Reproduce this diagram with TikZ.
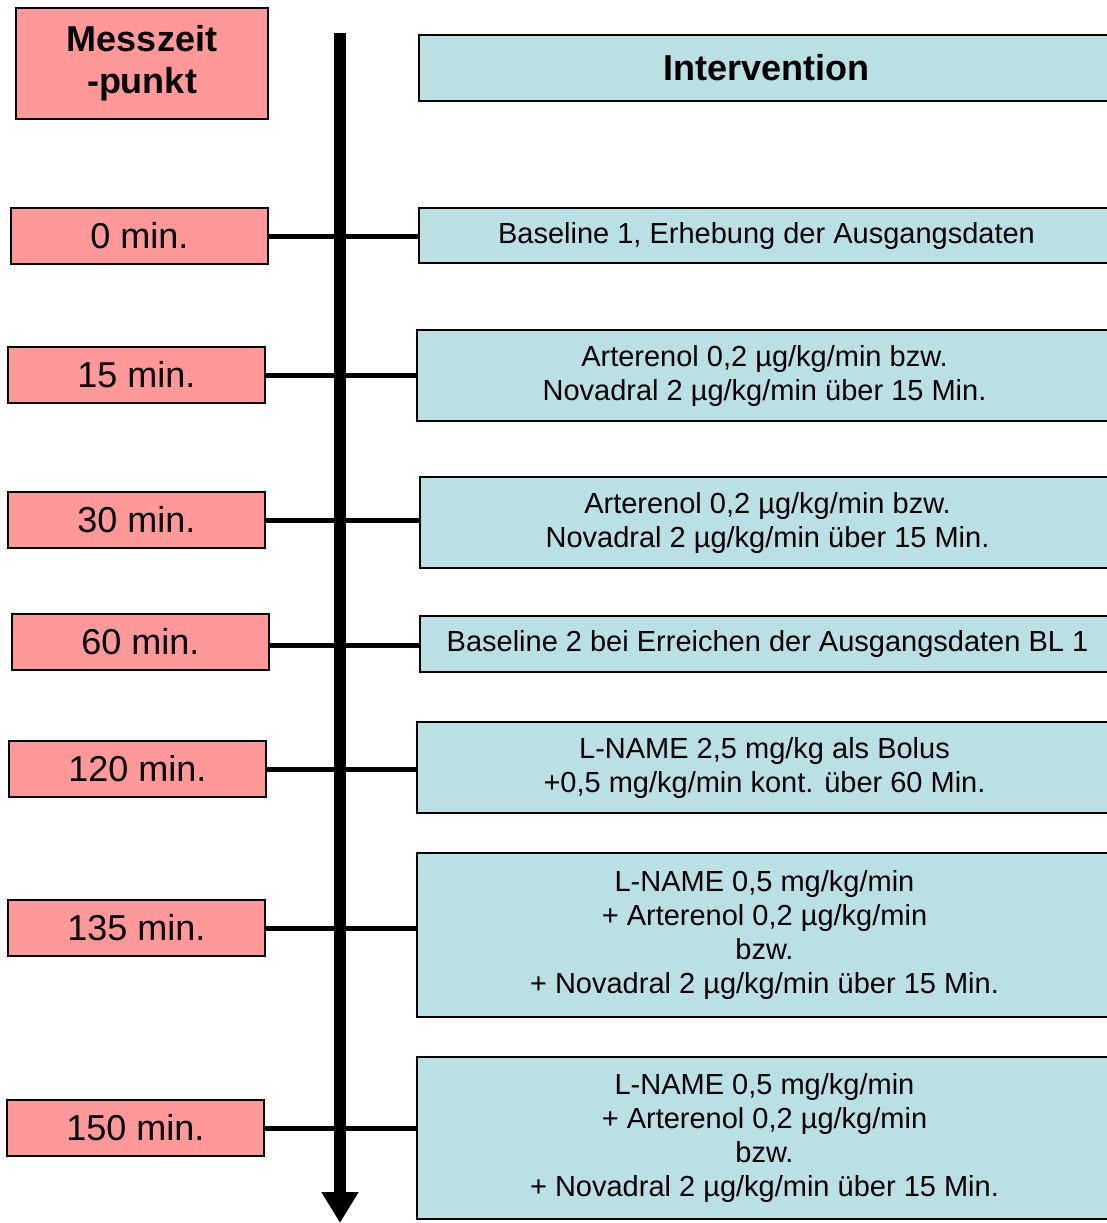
\documentclass[tikz,border=0pt]{standalone}
\usepackage{fontspec}
\setmainfont{Liberation Sans}
\usetikzlibrary{positioning,arrows.meta}
\definecolor{timepink}{HTML}{FF9999}
\definecolor{intcyan}{HTML}{BBE0E3}
\tikzset{
  timebox/.style={draw=black, line width=1pt, fill=timepink, anchor=west,
    minimum width=128.5pt, minimum height=28pt, inner sep=2pt,
    font=\fontsize{18pt}{21pt}\selectfont, align=center},
  intbox/.style={draw=black, line width=1pt, fill=intcyan, anchor=west,
    minimum width=347.5pt, inner sep=2pt,
    font=\fontsize{14.5pt}{17pt}\selectfont, align=center},
  tick/.style={line width=2.5pt, black}
}
\begin{document}
\begin{tikzpicture}[x=0.5pt, y=-0.5pt]
\clip (0,0) rectangle (1107,1223);
\useasboundingbox (0,0) rectangle (1107,1223);
% time axis
\coordinate (axistop) at (340,33);
\coordinate (axisend) at (340,1223);
\draw[line width=6pt, -{Triangle[width=17.5pt, length=15.5pt]}] (axistop) -- (axisend);
% headings
\node[timebox, minimum width=126pt, minimum height=55.5pt, font=\bfseries\fontsize{18pt}{21pt}\selectfont] (thead) at (15,63.5) {Messzeit\\-punkt};
\node[intbox, minimum height=33pt, font=\bfseries\fontsize{18pt}{21pt}\selectfont] (ihead) at (418,68) {Intervention};
% rows
\node[timebox] (t0) at (10,236) {0 min.};
\node[intbox, minimum height=27.5pt] (i0) at (418,235.5) {Baseline 1, Erhebung der Ausgangsdaten};
\node[timebox] (t15) at (7,375) {15 min.};
\node[intbox, minimum height=45.5pt] (i15) at (416,375.5) {Arterenol 0,2 µg/kg/min bzw.\\Novadral 2 µg/kg/min über 15 Min.};
\node[timebox] (t30) at (7,520) {30 min.};
\node[intbox, minimum height=45.5pt] (i30) at (419,522.5) {Arterenol 0,2 µg/kg/min bzw.\\Novadral 2 µg/kg/min über 15 Min.};
\node[timebox] (t60) at (11,642) {60 min.};
\node[intbox, minimum height=28pt] (i60) at (419,644) {Baseline 2 bei Erreichen der Ausgangsdaten BL 1};
\node[timebox] (t120) at (8,769) {120 min.};
\node[intbox, minimum height=45.5pt] (i120) at (416,767.5) {L-NAME 2,5 mg/kg als Bolus\\+0,5 mg/kg/min kont. über 60 Min.};
\node[timebox] (t135) at (7,928) {135 min.};
\node[intbox, minimum height=82pt] (i135) at (416,935) {L-NAME 0,5 mg/kg/min\\+ Arterenol 0,2 µg/kg/min\\bzw.\\+ Novadral 2 µg/kg/min über 15 Min.};
\node[timebox] (t150) at (6,1128) {150 min.};
\node[intbox, minimum height=81pt] (i150) at (416,1138) {L-NAME 0,5 mg/kg/min\\+ Arterenol 0,2 µg/kg/min\\bzw.\\+ Novadral 2 µg/kg/min über 15 Min.};
% connectors
\draw[tick] (t0.east) -- (t0.east -| i0.west);
\draw[tick] (t15.east) -- (t15.east -| i15.west);
\draw[tick] (t30.east) -- (t30.east -| i30.west);
\draw[tick] ([yshift=-1.5pt]t60.east) -- ([yshift=-1.5pt]t60.east -| i60.west);
\draw[tick] (t120.east) -- (t120.east -| i120.west);
\draw[tick] (t135.east) -- (t135.east -| i135.west);
\draw[tick] (t150.east) -- (t150.east -| i150.west);
\end{tikzpicture}
\end{document}
